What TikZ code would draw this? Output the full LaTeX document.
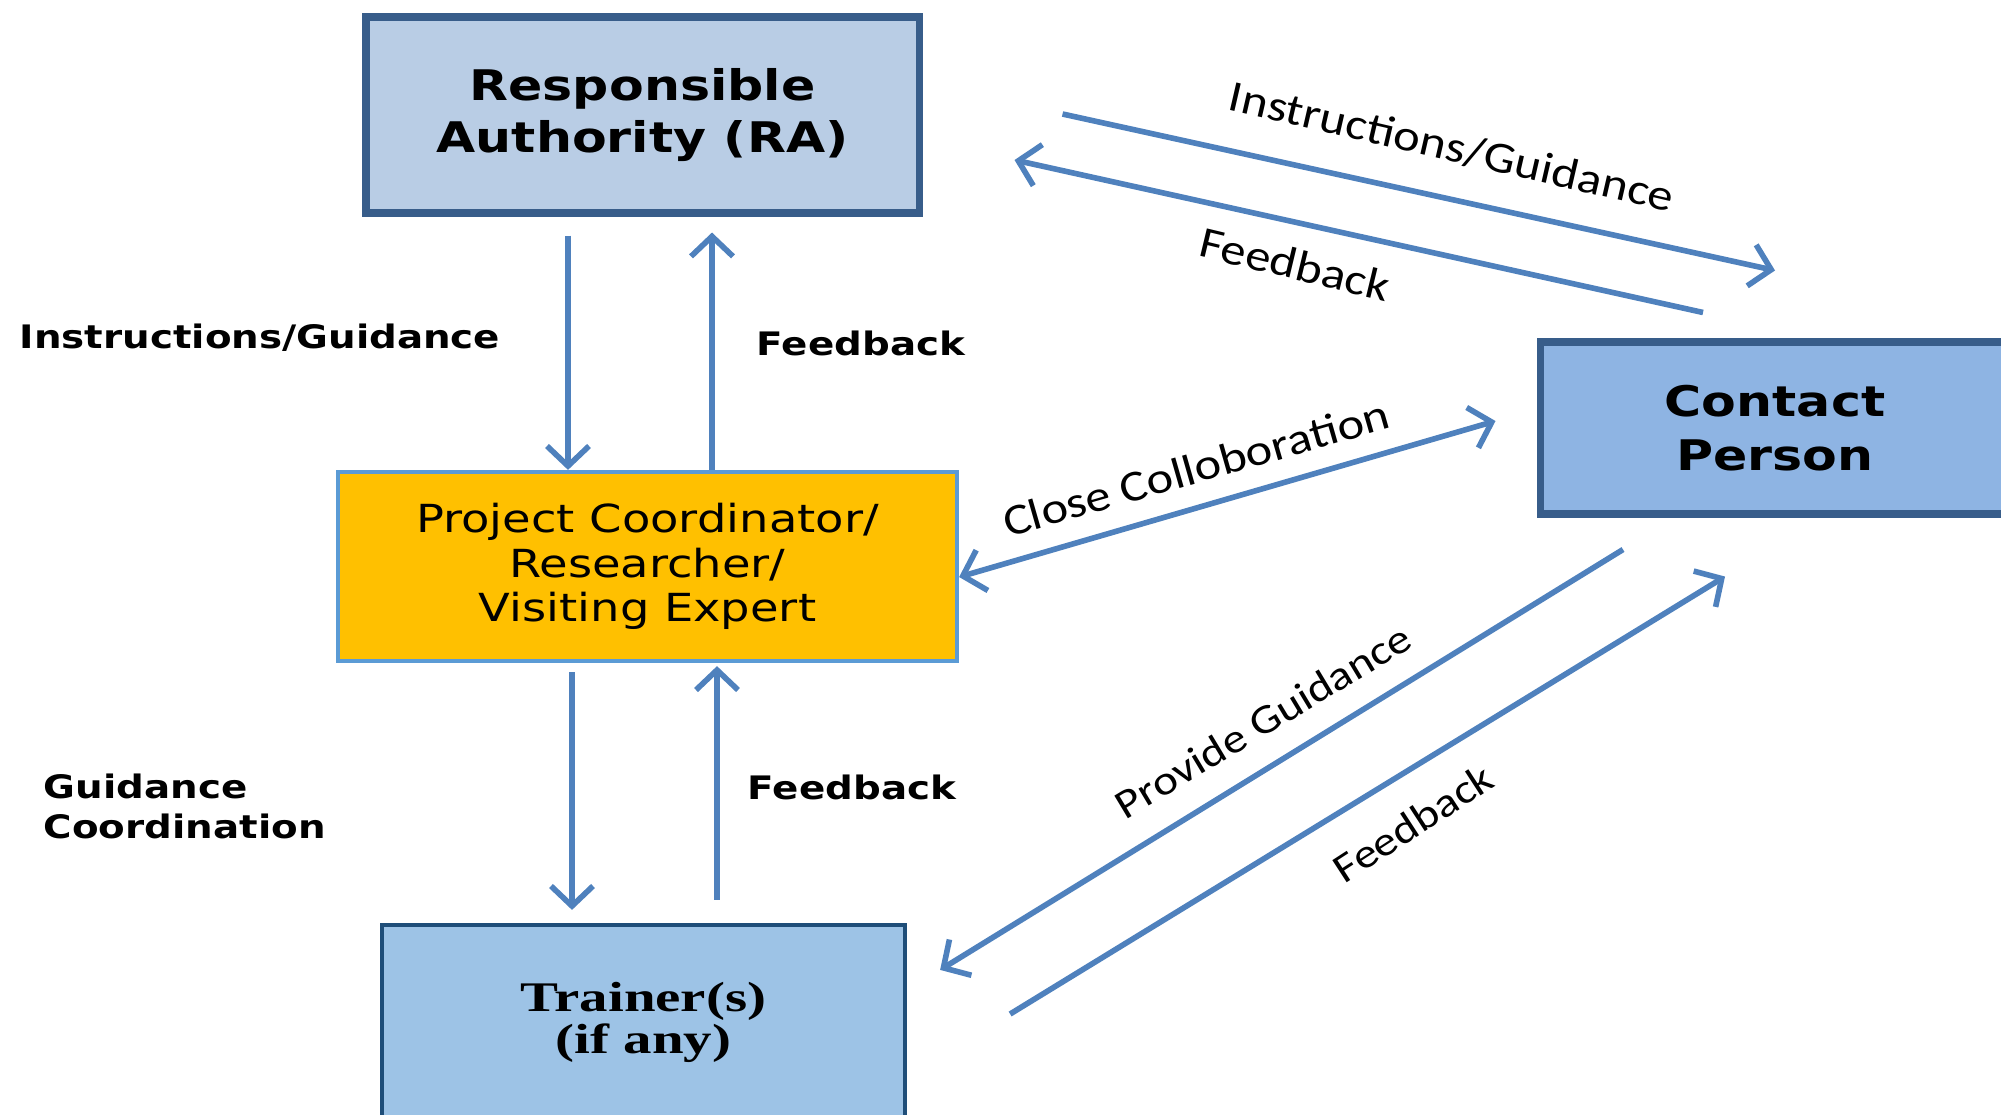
\documentclass[tikz,border=0pt]{standalone}
\usepackage{fontspec}
\newfontfamily\boxfont[FakeStretch=1.2]{DejaVu Sans}
\newfontfamily\labfont[FakeStretch=1.15]{Carlito}
\newfontfamily\trfont[FakeStretch=1.35]{Liberation Serif}
\usepackage{tikz}
\usetikzlibrary{positioning,calc,arrows.meta}
\definecolor{flowblue}{RGB}{79,129,189}
\definecolor{navyline}{RGB}{56,93,138}

\begin{document}
\begin{tikzpicture}[
  box/.style={draw, rectangle, align=center, inner sep=0pt},
  flow/.style={flowblue, line width=1.6pt, -{Straight Barb[length=2mm,width=4.2mm]}},
  sidelab/.style={font=\boxfont\bfseries\fontsize{9.2}{11.6}\selectfont, align=left, inner sep=0pt},
  slantlab/.style={font=\labfont\fontsize{12.5}{14}\selectfont, inner sep=0pt}
]
\useasboundingbox (0,0) rectangle (20.01,-11.14);

% the four boxes
\node[box, fill={rgb,255:red,185;green,205;blue,229}, draw=navyline, line width=2pt,
  minimum width=5.53cm, minimum height=1.96cm,
  font=\boxfont\bfseries\fontsize{12}{14.8}\selectfont] (ra) at (6.425,-1.15) {Responsible\\Authority (RA)};
\node[box, fill={rgb,255:red,142;green,180;blue,227}, draw=navyline, line width=2pt,
  minimum width=4.7cm, minimum height=1.72cm,
  font=\boxfont\bfseries\fontsize{12}{15.2}\selectfont] (cp) at (17.75,-4.28) {Contact\\Person};
\node[box, fill={rgb,255:red,255;green,192;blue,0}, draw={rgb,255:red,91;green,155;blue,213}, line width=1.2pt,
  minimum width=6.19cm, minimum height=1.89cm,
  font=\boxfont\fontsize{11}{12.7}\selectfont] (pc) at (6.475,-5.665) {Project Coordinator/\\Researcher/\\Visiting Expert};
\node[box, fill={rgb,255:red,157;green,195;blue,230}, draw={rgb,255:red,31;green,78;blue,121}, line width=1.2pt,
  minimum width=5.23cm, minimum height=1.94cm,
  font=\trfont\bfseries\fontsize{12}{12}\selectfont] (tr) at (6.435,-10.22) {Trainer(s)\\(if any)};

% vertical flows
\draw[flow] ($(ra.south)+(-0.745,-0.19)$) coordinate (a1) -- (a1 |- pc.north);
\draw[flow] ($(pc.north)+(0.645,0)$) coordinate (a2) -- ($(a2 |- ra.south)+(0,-0.16)$);
\draw[flow] ($(pc.south)+(-0.755,-0.09)$) coordinate (a3) -- ($(a3 |- tr.north)+(0,0.13)$);
\draw[flow] ($(tr.north)+(0.735,0.23)$) coordinate (a4) -- ($(a4 |- pc.south)+(0,-0.03)$);

% diagonal flows
\draw[flow] ($(ra.east)+(1.40,0.01)$) -- ($(cp.north)+(0,0.68)$);
\draw[flow] ($(cp.north)+(-0.72,0.26)$) -- ($(ra.east)+(0.92,-0.45)$);
\draw[flow, {Straight Barb[length=2mm,width=4.2mm]}-{Straight Barb[length=2mm,width=4.2mm]}]
  ($(pc.east)+(0,-0.105)$) -- ($(cp.west)+(-0.41,0.07)$);
\draw[flow] ($(cp.south)+(-1.52,-0.32)$) -- ($(tr.north east)+(0.33,-0.47)$);
\draw[flow] ($(tr.east)+(1.03,0.08)$) -- ($(cp.south)+(-0.5,-0.59)$);

% labels
\node[sidelab] (l1) at (2.60,-3.38) {Instructions/Guidance};
\node[sidelab] (l2) at (8.61,-3.43) {Feedback};
\node[sidelab, anchor=west] (l3) at (0.43,-8.065) {Guidance\\Coordination};
\node[sidelab] (l4) at (8.52,-7.87) {Feedback};
\node[slantlab, rotate=-13] (l5) at (14.52,-1.47) {Instructions/Guidance};
\node[slantlab, rotate=-13.5] (l6) at (12.95,-2.64) {Feedback};
\node[slantlab, rotate=16] (l7) at (11.96,-4.68) {Close Colloboration};
\node[slantlab, rotate=31, font=\labfont\fontsize{11.7}{14}\selectfont] (l8) at (12.63,-7.21) {Provide Guidance};
\node[slantlab, rotate=33, font=\labfont\fontsize{11.7}{14}\selectfont] (l9) at (14.13,-8.23) {Feedback};
\end{tikzpicture}
\end{document}
